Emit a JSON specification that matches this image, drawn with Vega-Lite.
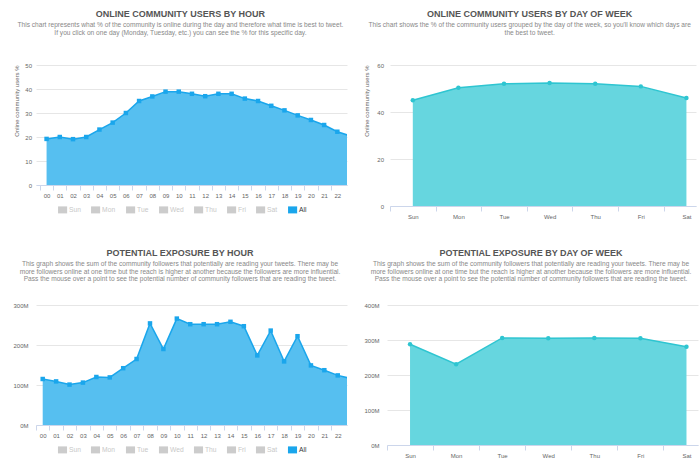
{
  "$schema": "https://vega.github.io/schema/vega-lite/v6.json",
  "background": "#ffffff",
  "padding": {"left": 12, "top": 9, "right": 3, "bottom": 0},
  "columns": 2,
  "spacing": {"row": 29, "column": 16},
  "align": {"row": "each", "column": "none"},
  "resolve": {"scale": {"color": "independent"}, "legend": {"color": "independent"}},
  "config": {
    "font": "Liberation Sans",
    "view": {"stroke": null},
    "axis": {"labelFont": "Liberation Sans", "labelColor": "#666666", "labelFontSize": 6, "gridColor": "#e6e6e6", "domainColor": "#ccd6eb", "tickColor": "#ccd6eb", "titleFont": "Liberation Sans"},
    "title": {"font": "Liberation Sans", "fontSize": 9, "fontWeight": "bold", "color": "#555555", "subtitleFont": "Liberation Sans", "subtitleFontSize": 6.6, "subtitleColor": "#888888", "anchor": "middle", "frame": "bounds"}
  },
  "concat": [
    {
      "width": 311,
      "height": 120,
      "title": {
        "text": "ONLINE COMMUNITY USERS BY HOUR",
        "subtitle": ["This chart represents what % of the community is online during the day and therefore what time is best to tweet.", "If you click on one day (Monday, Tuesday, etc.) you can see the % for this specific day."],
        "subtitleLineHeight": 8.7,
        "subtitlePadding": 3,
        "offset": 25
      },
      "data": {"values": [
        {"h": 0, "users": 19.2, "series": "All"},
        {"h": 1, "users": 20.0, "series": "All"},
        {"h": 2, "users": 19.1, "series": "All"},
        {"h": 3, "users": 20.0, "series": "All"},
        {"h": 4, "users": 23.1, "series": "All"},
        {"h": 5, "users": 26.0, "series": "All"},
        {"h": 6, "users": 30.0, "series": "All"},
        {"h": 7, "users": 35.0, "series": "All"},
        {"h": 8, "users": 36.9, "series": "All"},
        {"h": 9, "users": 38.9, "series": "All"},
        {"h": 10, "users": 38.9, "series": "All"},
        {"h": 11, "users": 38.0, "series": "All"},
        {"h": 12, "users": 37.0, "series": "All"},
        {"h": 13, "users": 38.0, "series": "All"},
        {"h": 14, "users": 38.0, "series": "All"},
        {"h": 15, "users": 36.0, "series": "All"},
        {"h": 16, "users": 35.0, "series": "All"},
        {"h": 17, "users": 33.0, "series": "All"},
        {"h": 18, "users": 31.1, "series": "All"},
        {"h": 19, "users": 29.0, "series": "All"},
        {"h": 20, "users": 27.1, "series": "All"},
        {"h": 21, "users": 25.0, "series": "All"},
        {"h": 22, "users": 22.2, "series": "All"},
        {"h": 23, "users": 20.4, "series": "All"}
      ]},
      "encoding": {
        "x": {"field": "h", "type": "quantitative",
          "scale": {"domain": [-0.8, 22.73], "nice": false, "zero": false},
          "axis": {"values": [-0.5, 0.5, 1.5, 2.5, 3.5, 4.5, 5.5, 6.5, 7.5, 8.5, 9.5, 10.5, 11.5, 12.5, 13.5, 14.5, 15.5, 16.5, 17.5, 18.5, 19.5, 20.5, 21.5],
            "labelExpr": "(datum.value + 0.5 < 10 ? '0' : '') + (datum.value + 0.5)",
            "labelOffset": 6.6, "labelFlush": false, "labelOverlap": false, "grid": false, "title": null, "tickSize": 5, "labelPadding": 2}},
        "y": {"field": "users", "type": "quantitative",
          "scale": {"domain": [0, 50], "nice": false},
          "axis": {"values": [0, 10, 20, 30, 40, 50], "title": "Online community users %", "titleAnchor": "end", "titleFontSize": 6, "titleFontWeight": "normal", "titleColor": "#666666", "titlePadding": 5, "domain": false, "ticks": false, "labelPadding": 4.5}}
      },
      "layer": [
        {"mark": {"type": "area", "color": "#56bff0", "clip": true}},
        {"mark": {"type": "line", "color": "#1aa6ec", "strokeWidth": 1.5, "clip": true}},
        {"mark": {"type": "point", "shape": "square", "filled": true, "size": 20, "opacity": 1, "clip": true},
          "encoding": {"color": {"field": "series", "type": "nominal",
            "scale": {"domain": ["Sun", "Mon", "Tue", "Wed", "Thu", "Fri", "Sat", "All"], "range": ["#cccccc", "#cccccc", "#cccccc", "#cccccc", "#cccccc", "#cccccc", "#cccccc", "#1aa6ec"]},
            "legend": {"orient": "none", "legendX": 23.1, "legendY": 141, "direction": "horizontal", "title": null,
              "symbolType": "M-1.3,-1H1.3V1H-1.3Z", "symbolSize": 49, "symbolStrokeWidth": 0,
              "labelFont": "Liberation Sans", "labelFontSize": 6.7, "labelOffset": 3, "columnPadding": 9,
              "labelColor": {"expr": "datum.label == 'All' ? '#333333' : '#c8c8c8'"}}}}}
      ]
    },
    {
      "width": 306,
      "height": 141,
      "title": {
        "text": "ONLINE COMMUNITY USERS BY DAY OF WEEK",
        "subtitle": ["This chart shows the % of the community users grouped by the day of the week, so you'll know which days are", "the best to tweet."],
        "subtitleLineHeight": 8.7,
        "subtitlePadding": 3,
        "offset": 25
      },
      "data": {"values": [
        {"idx": 0, "day": "Sun", "users": 45.0},
        {"idx": 1, "day": "Mon", "users": 50.3},
        {"idx": 2, "day": "Tue", "users": 52.0},
        {"idx": 3, "day": "Wed", "users": 52.3},
        {"idx": 4, "day": "Thu", "users": 52.0},
        {"idx": 5, "day": "Fri", "users": 50.9},
        {"idx": 6, "day": "Sat", "users": 46.0}
      ]},
      "encoding": {
        "x": {"field": "idx", "type": "quantitative",
          "scale": {"domain": [-0.5, 6.21], "nice": false, "zero": false},
          "axis": {"values": [-0.5, 0.5, 1.5, 2.5, 3.5, 4.5, 5.5],
            "labelExpr": "['Sun','Mon','Tue','Wed','Thu','Fri','Sat'][datum.value + 0.5]",
            "labelOffset": 22.8, "labelFlush": false, "labelOverlap": false, "grid": false, "title": null, "tickSize": 5, "labelPadding": 2}},
        "y": {"field": "users", "type": "quantitative",
          "scale": {"domain": [0, 60], "nice": false},
          "axis": {"values": [0, 20, 40, 60], "title": "Online community users %", "titleAnchor": "end", "titleFontSize": 6, "titleFontWeight": "normal", "titleColor": "#666666", "titlePadding": 7.5, "domain": false, "ticks": false, "labelPadding": 6.5}}
      },
      "layer": [
        {"mark": {"type": "area", "color": "#66d6df", "clip": true}},
        {"mark": {"type": "line", "color": "#2ec5d1", "strokeWidth": 1.5, "clip": true}},
        {"mark": {"type": "point", "shape": "circle", "filled": true, "size": 20, "opacity": 1, "color": "#2ec5d1", "clip": true}}
      ]
    },
    {
      "width": 311,
      "height": 120,
      "title": {
        "text": "POTENTIAL EXPOSURE BY HOUR",
        "subtitle": ["This graph shows the sum of the community followers that potentially are reading your tweets. There may be", "more followers online at one time but the reach is higher at another because the followers are more influential.", "Pass the mouse over a point to see the potential number of community followers that are reading the tweet."],
        "subtitleLineHeight": 7.8,
        "subtitlePadding": 3,
        "offset": 19
      },
      "data": {"values": [
        {"h": 0, "reach": 115000000, "series": "All"},
        {"h": 1, "reach": 109000000, "series": "All"},
        {"h": 2, "reach": 101000000, "series": "All"},
        {"h": 3, "reach": 106000000, "series": "All"},
        {"h": 4, "reach": 120000000, "series": "All"},
        {"h": 5, "reach": 119000000, "series": "All"},
        {"h": 6, "reach": 142000000, "series": "All"},
        {"h": 7, "reach": 165000000, "series": "All"},
        {"h": 8, "reach": 254000000, "series": "All"},
        {"h": 9, "reach": 190000000, "series": "All"},
        {"h": 10, "reach": 266000000, "series": "All"},
        {"h": 11, "reach": 252000000, "series": "All"},
        {"h": 12, "reach": 252000000, "series": "All"},
        {"h": 13, "reach": 252000000, "series": "All"},
        {"h": 14, "reach": 258000000, "series": "All"},
        {"h": 15, "reach": 247000000, "series": "All"},
        {"h": 16, "reach": 174000000, "series": "All"},
        {"h": 17, "reach": 236000000, "series": "All"},
        {"h": 18, "reach": 159000000, "series": "All"},
        {"h": 19, "reach": 222000000, "series": "All"},
        {"h": 20, "reach": 149000000, "series": "All"},
        {"h": 21, "reach": 137000000, "series": "All"},
        {"h": 22, "reach": 124000000, "series": "All"},
        {"h": 23, "reach": 116000000, "series": "All"}
      ]},
      "encoding": {
        "x": {"field": "h", "type": "quantitative",
          "scale": {"domain": [-0.5, 22.69], "nice": false, "zero": false},
          "axis": {"values": [-0.5, 0.5, 1.5, 2.5, 3.5, 4.5, 5.5, 6.5, 7.5, 8.5, 9.5, 10.5, 11.5, 12.5, 13.5, 14.5, 15.5, 16.5, 17.5, 18.5, 19.5, 20.5, 21.5],
            "labelExpr": "(datum.value + 0.5 < 10 ? '0' : '') + (datum.value + 0.5)",
            "labelOffset": 6.7, "labelFlush": false, "labelOverlap": false, "grid": false, "title": null, "tickSize": 5, "labelPadding": 2}},
        "y": {"field": "reach", "type": "quantitative",
          "scale": {"domain": [0, 300000000], "nice": false},
          "axis": {"values": [0, 100000000, 200000000, 300000000], "labelExpr": "(datum.value / 1000000) + 'M'", "title": null, "domain": false, "ticks": false, "labelPadding": 8}}
      },
      "layer": [
        {"mark": {"type": "area", "color": "#56bff0", "clip": true}},
        {"mark": {"type": "line", "color": "#1aa6ec", "strokeWidth": 1.5, "clip": true}},
        {"mark": {"type": "point", "shape": "square", "filled": true, "size": 20, "opacity": 1, "clip": true},
          "encoding": {"color": {"field": "series", "type": "nominal",
            "scale": {"domain": ["Sun", "Mon", "Tue", "Wed", "Thu", "Fri", "Sat", "All"], "range": ["#cccccc", "#cccccc", "#cccccc", "#cccccc", "#cccccc", "#cccccc", "#cccccc", "#1aa6ec"]},
            "legend": {"orient": "none", "legendX": 23, "legendY": 141, "direction": "horizontal", "title": null,
              "symbolType": "M-1.3,-1H1.3V1H-1.3Z", "symbolSize": 49, "symbolStrokeWidth": 0,
              "labelFont": "Liberation Sans", "labelFontSize": 6.7, "labelOffset": 3, "columnPadding": 9,
              "labelColor": {"expr": "datum.label == 'All' ? '#333333' : '#c8c8c8'"}}}}}
      ]
    },
    {
      "width": 311,
      "height": 140,
      "title": {
        "text": "POTENTIAL EXPOSURE BY DAY OF WEEK",
        "subtitle": ["This graph shows the sum of the community followers that potentially are reading your tweets. There may be", "more followers online at one time but the reach is higher at another because the followers are more influential.", "Pass the mouse over a point to see the potential number of community followers that are reading the tweet."],
        "subtitleLineHeight": 7.8,
        "subtitlePadding": 3,
        "offset": 19
      },
      "data": {"values": [
        {"idx": 0, "day": "Sun", "reach": 288000000},
        {"idx": 1, "day": "Mon", "reach": 231000000},
        {"idx": 2, "day": "Tue", "reach": 306000000},
        {"idx": 3, "day": "Wed", "reach": 305000000},
        {"idx": 4, "day": "Thu", "reach": 306000000},
        {"idx": 5, "day": "Fri", "reach": 305000000},
        {"idx": 6, "day": "Sat", "reach": 281000000}
      ]},
      "encoding": {
        "x": {"field": "idx", "type": "quantitative",
          "scale": {"domain": [-0.5, 6.25], "nice": false, "zero": false},
          "axis": {"values": [-0.5, 0.5, 1.5, 2.5, 3.5, 4.5, 5.5],
            "labelExpr": "['Sun','Mon','Tue','Wed','Thu','Fri','Sat'][datum.value + 0.5]",
            "labelOffset": 23, "labelFlush": false, "labelOverlap": false, "grid": false, "title": null, "tickSize": 5, "labelPadding": 2}},
        "y": {"field": "reach", "type": "quantitative",
          "scale": {"domain": [0, 400000000], "nice": false},
          "axis": {"values": [0, 100000000, 200000000, 300000000, 400000000], "labelExpr": "(datum.value / 1000000) + 'M'", "title": null, "domain": false, "ticks": false, "labelPadding": 8}}
      },
      "layer": [
        {"mark": {"type": "area", "color": "#66d6df", "clip": true}},
        {"mark": {"type": "line", "color": "#2ec5d1", "strokeWidth": 1.5, "clip": true}},
        {"mark": {"type": "point", "shape": "circle", "filled": true, "size": 20, "opacity": 1, "color": "#2ec5d1", "clip": true}}
      ]
    }
  ]
}
